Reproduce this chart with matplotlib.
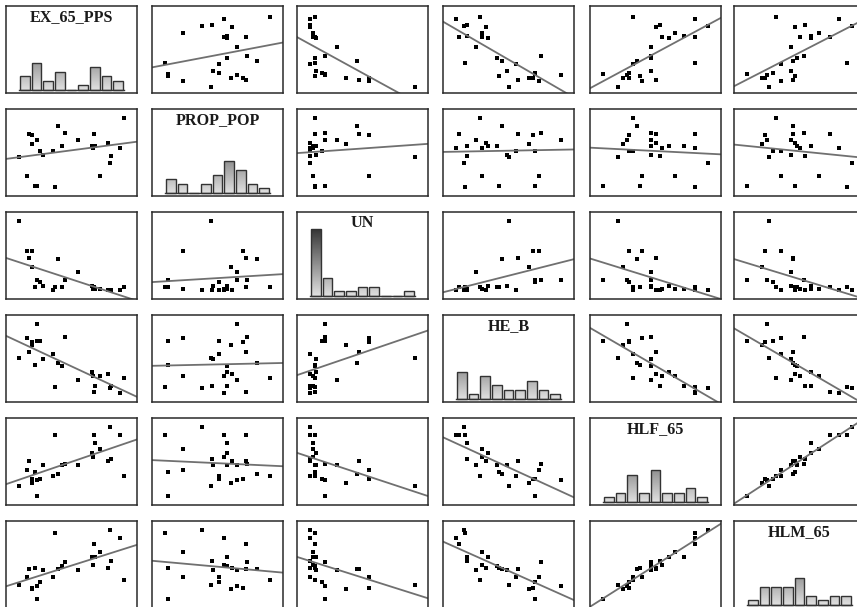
import numpy as np
import matplotlib
matplotlib.use('Agg')
import matplotlib.pyplot as plt
from matplotlib.colors import LinearSegmentedColormap

# variable names (diagonal titles)
names = ['EX_65_PPS', 'PROP_POP', 'UN', 'HE_B', 'HLF_65', 'HLM_65']

# one value per country, same order in every list
ex_65_pps = [8175, 4075, 8925, 7000, 7075, 7425, 6875, 6900, 8250, 8050, 3150, 4625, 4800,
             5800, 4300, 3950, 2125, 2575, 2000, 9250, 2925, 2700, 2325, 2350, 1375, 2750]
prop_pop = [16.6, 13.7, 18.4, 20.1, 18.6, 15.1, 18.6, 18.4, 17.45, 19.0, 17.5, 18.6, 20.2,
            19.4, 21.0, 18.0, 20.1, 13.9, 15.1, 22.0, 18.0, 19.4, 19.9, 18.9, 17.3, 13.9]
un = [0.2, 0.6, 0.2, 0.6, 0.4, 0.4, 0.7, 0.4, 0.2, 0.2, 0.7, 0.6, 1.4,
      2.4, 4.0, 0.2, 4.2, 0.6, 5.0, 0.6, 1.2, 1.4, 5.0, 3.1, 8.7, 1.4]
he_b = [2.75, 2.9, 2.0, 2.25, 3.1, 4.6, 5.25, 4.6, 3.1, 5.0, 7.15, 6.1, 10.6,
        4.0, 6.65, 8.05, 8.25, 6.3, 10.4, 4.4, 10.0, 12.6, 9.8, 9.4, 7.4, 10.0]
hlf_65 = [13.9, 12.6, 12.6, 12.6, 11.5, 10.6, 10.0, 9.35, 9.1, 8.7, 8.25, 8.25, 8.3,
          8.25, 6.9, 6.5, 8.7, 7.2, 7.4, 6.5, 6.1, 5.9, 6.1, 5.45, 5.0, 3.5]
hlm_65 = [13.9, 13.4, 12.6, 11.7, 9.8, 10.6, 9.8, 8.7, 9.2, 8.25, 7.85, 8.5, 9.1,
          7.85, 8.05, 6.9, 8.05, 8.25, 6.9, 6.35, 6.1, 5.5, 5.25, 5.0, 5.7, 3.5]

data = [np.array(v, dtype=float) for v in (ex_65_pps, prop_pop, un, he_b, hlf_65, hlm_65)]

n_bins = 9
pad = 0.125

W, H = 857, 607
col_left = [6, 152, 297, 443, 590, 734]
row_top = [6, 109, 212, 315, 418, 521]
pw, ph = 131, 87

bar_cmap = LinearSegmentedColormap.from_list('bars', ['#e0e0e0', '#2c2c2c'])


def lims(v, lo=pad, hi=pad):
    r = v.max() - v.min()
    return v.min() - lo * r, v.max() + hi * r


fig = plt.figure(figsize=(W / 100, H / 100), dpi=100)

for i in range(6):
    for j in range(6):
        ax = fig.add_axes([col_left[j] / W, 1 - (row_top[i] + ph) / H, pw / W, ph / H])
        x = data[j]
        y = data[i]
        xlim = lims(x)
        if i == j:
            # histogram on the diagonal, grey gradient bars
            counts, edges = np.histogram(x, bins=n_bins)
            bw = edges[1] - edges[0]
            centers = (edges[:-1] + edges[1:]) / 2
            for c, cnt in zip(centers, counts):
                if cnt == 0:
                    continue
                grad = np.linspace(0, cnt, 64).reshape(-1, 1)
                ax.imshow(grad, cmap=bar_cmap, vmin=0, vmax=16, origin='lower', aspect='auto',
                          extent=(c - 0.42 * bw, c + 0.42 * bw, 0, cnt), interpolation='bilinear')
            ax.bar(centers, counts, width=0.84 * bw, fill=False, edgecolor='#333333', linewidth=1.0)
            ax.plot([edges[0], edges[-1]], [0, 0], color='#333333', lw=1.0)
            ax.set_ylim(-0.75, 18.75)
            ax.text(0.5, 0.83, names[i], transform=ax.transAxes, ha='center', va='baseline',
                    fontsize=11.6, fontweight='bold', family='Liberation Serif', color='#1a1a1a')
        else:
            ax.plot(x, y, 's', color='black', ms=2.3, mew=0)
            b, a = np.polyfit(x, y, 1)
            xl = np.array(xlim)
            ax.plot(xl, a + b * xl, color='#707070', lw=1.3)
            if i == 0:
                ax.set_ylim(*lims(y, 0.09, 0.15))
            else:
                ax.set_ylim(*lims(y))
        ax.set_xlim(*xlim)
        ax.set_xticks([])
        ax.set_yticks([])
        for s in ax.spines.values():
            s.set_color('#2a2a2a')
            s.set_linewidth(1.1)

fig.savefig('out.png', dpi=100)
